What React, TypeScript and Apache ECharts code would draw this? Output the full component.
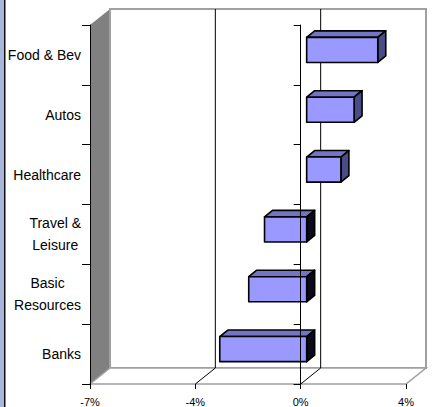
import React, { useEffect, useRef } from "react";
import * as echarts from "echarts";

// Sector returns, bottom to top as drawn on the category axis
const categories = ["Banks", "Basic\nResources", "Travel &\nLeisure", "Healthcare", "Autos", "Food & Bev"];
const returns = [-3.3, -2.2, -1.6, 1.3, 1.8, 2.7];

// Value axis ticks and the labels printed under them
const xTickValues = [-8, -4, 0, 4];
const xTickLabels = ["-7%", "-4%", "0%", "4%"];

const FONT = "'Liberation Sans', Arial, sans-serif";

// 3D box styling: depth of the chart walls and of each bar
const WALL_DX = 20;
const WALL_DY = -16;
const BAR_SHIFT_X = 6;
const BAR_SHIFT_Y = -5;
const BAR_DX = 8;
const BAR_DY = -6.5;

export default function App() {
  const ref = useRef<HTMLDivElement>(null);

  useEffect(() => {
    if (!ref.current) return;
    const chart = echarts.init(ref.current, null, { renderer: "svg" });

    const renderFrame = (params: any, api: any) => {
      const cs = params.coordSys;
      const x = cs.x, y = cs.y, w = cs.width, h = cs.height;
      const children: any[] = [];
      // side wall
      children.push({
        type: "polygon",
        shape: { points: [[x, y], [x + WALL_DX, y + WALL_DY], [x + WALL_DX, y + h + WALL_DY], [x, y + h]] },
        style: { fill: "#808080" },
      });
      // back wall
      children.push({
        type: "rect",
        shape: { x: x + WALL_DX, y: y + WALL_DY, width: w, height: h },
        style: { fill: "#ffffff", stroke: "#a0a0a0", lineWidth: 2 },
      });
      // floor
      children.push({
        type: "polygon",
        shape: {
          points: [[x, y + h], [x + WALL_DX, y + h + WALL_DY], [x + w + WALL_DX, y + h + WALL_DY], [x + w, y + h]],
        },
        style: { fill: "#ffffff", stroke: "#a0a0a0", lineWidth: 1.5 },
      });
      // gridlines on back wall and floor
      xTickValues.slice(1, -1).forEach((t) => {
        const cx = api.coord([t, 0])[0];
        children.push({
          type: "line",
          shape: { x1: cx + WALL_DX, y1: y + WALL_DY, x2: cx + WALL_DX, y2: y + h + WALL_DY },
          style: { stroke: "#000", lineWidth: 1 },
        });
        children.push({
          type: "line",
          shape: { x1: cx, y1: y + h, x2: cx + WALL_DX, y2: y + h + WALL_DY },
          style: { stroke: "#000", lineWidth: 1 },
        });
      });
      return { type: "group", children };
    };

    const renderBar = (params: any, api: any) => {
      const v = api.value(0);
      const ci = api.value(1);
      const p0 = api.coord([0, ci]);
      const p1 = api.coord([v, ci]);
      const band = api.size([0, 1])[1];
      const bh = band * 0.42;
      const x0 = Math.min(p0[0], p1[0]) + BAR_SHIFT_X;
      const x1 = Math.max(p0[0], p1[0]) + BAR_SHIFT_X;
      const cy = p0[1] + BAR_SHIFT_Y;
      const y0 = cy - bh / 2;
      const y1 = cy + bh / 2;
      const stroke = { stroke: "#000", lineWidth: 1.6, lineJoin: "round" };
      return {
        type: "group",
        children: [
          {
            type: "polygon",
            shape: { points: [[x0, y0], [x1, y0], [x1 + BAR_DX, y0 + BAR_DY], [x0 + BAR_DX, y0 + BAR_DY]] },
            style: { fill: "#7474c4", ...stroke },
          },
          {
            type: "polygon",
            shape: { points: [[x1, y0], [x1 + BAR_DX, y0 + BAR_DY], [x1 + BAR_DX, y1 + BAR_DY], [x1, y1]] },
            style: { fill: v >= 0 ? "#4b4b86" : "#0a0a1a", ...stroke },
          },
          {
            type: "rect",
            shape: { x: x0, y: y0, width: x1 - x0, height: bh },
            style: { fill: "#9999ff", ...stroke },
          },
        ],
      };
    };

    chart.setOption({
      animation: false,
      backgroundColor: "#ffffff",
      textStyle: { fontFamily: FONT },
      grid: { left: 90, top: 25, width: 316, height: 360, containLabel: false },
      graphic: [
        { type: "rect", shape: { x: 0, y: 0, width: 4, height: 407 }, style: { fill: "#a9b5db" } },
        { type: "rect", shape: { x: 4, y: 0, width: 1.5, height: 407 }, style: { fill: "#111" } },
      ],
      xAxis: {
        type: "value",
        min: xTickValues[0],
        max: xTickValues[xTickValues.length - 1],
        interval: 4,
        z: 5,
        axisLine: { onZero: false, lineStyle: { color: "#000", width: 1 } },
        axisTick: { show: true, length: 5, lineStyle: { color: "#000" } },
        splitLine: { show: false },
        axisLabel: {
          color: "#000",
          fontSize: 11,
          fontFamily: FONT,
          margin: 12,
          formatter: (v: number) => {
            const i = xTickValues.indexOf(v);
            return i >= 0 ? xTickLabels[i] : "";
          },
        },
      },
      yAxis: [
        {
          type: "category",
          data: categories,
          position: "left",
          z: 5,
          axisLine: { onZero: false, lineStyle: { color: "#000", width: 1 } },
          axisTick: { show: true, length: 8, lineStyle: { color: "#000" } },
          splitLine: { show: false },
          axisLabel: {
            color: "#000",
            margin: 9,
            formatter: (val: string) =>
              val
                .split("\n")
                .map((s) => `{c|${s}}`)
                .join("\n"),
            rich: {
              c: { align: "center", fontSize: 14, lineHeight: 22, fontFamily: FONT, color: "#000" },
            },
          },
        },
        {
          type: "category",
          data: categories,
          position: "left",
          z: 6,
          axisLine: { onZero: true, lineStyle: { color: "#000", width: 1 } },
          axisTick: { show: true, length: 7, lineStyle: { color: "#000" } },
          axisLabel: { show: false },
          splitLine: { show: false },
        },
      ],
      series: [
        {
          type: "custom",
          z: 1,
          silent: true,
          renderItem: renderFrame,
          data: [[0, 0]],
          encode: { x: 0, y: 1 },
        },
        {
          type: "custom",
          z: 3,
          renderItem: renderBar,
          data: returns.map((v, i) => [v, i]),
          encode: { x: 0, y: 1 },
        },
      ],
    });

    return () => chart.dispose();
  }, []);

  return (
    <div
      ref={ref}
      style={{ position: "absolute", left: 0, top: 0, width: 432, height: 407, background: "#fff" }}
    />
  );
}
